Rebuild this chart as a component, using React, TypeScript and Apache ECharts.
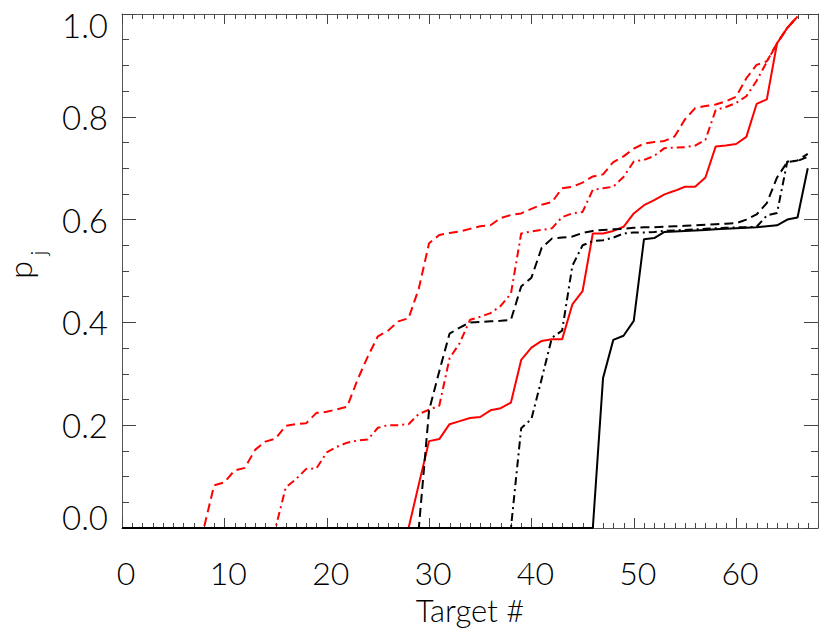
import React, { useEffect, useRef } from "react";
import * as echarts from "echarts";

const targets = [
  0, 1, 2, 3, 4, 5, 6, 7, 8, 9, 10, 11, 12, 13, 14, 15, 16, 17, 18, 19,
  20, 21, 22, 23, 24, 25, 26, 27, 28, 29, 30, 31, 32, 33, 34, 35, 36, 37, 38, 39,
  40, 41, 42, 43, 44, 45, 46, 47, 48, 49, 50, 51, 52, 53, 54, 55, 56, 57, 58, 59,
  60, 61, 62, 63, 64, 65, 66, 67,
];

// x tick positions (major every 10, minor every 1)
const xTicks = [
  0, 1, 2, 3, 4, 5, 6, 7, 8, 9, 10, 11, 12, 13, 14, 15, 16, 17, 18, 19,
  20, 21, 22, 23, 24, 25, 26, 27, 28, 29, 30, 31, 32, 33, 34, 35, 36, 37, 38, 39,
  40, 41, 42, 43, 44, 45, 46, 47, 48, 49, 50, 51, 52, 53, 54, 55, 56, 57, 58, 59,
  60, 61, 62, 63, 64, 65, 66, 67, 68,
];

const xTickLabels = ["0", "10", "20", "30", "40", "50", "60"];

// red, solid (targets 0..66)
const redSolid = [
  0, 0, 0, 0, 0, 0, 0, 0, 0, 0, 0, 0, 0, 0, 0, 0, 0, 0, 0, 0,
  0, 0, 0, 0, 0, 0, 0, 0, 0, 0.085, 0.169, 0.173, 0.202, 0.208, 0.214, 0.216, 0.229, 0.233, 0.244, 0.327,
  0.351, 0.364, 0.367, 0.367, 0.435, 0.461, 0.573, 0.573, 0.578, 0.586, 0.612, 0.628, 0.638, 0.649, 0.656, 0.664, 0.664, 0.682, 0.742, 0.744,
  0.747, 0.761, 0.825, 0.834, 0.943, 0.973, 0.995,
];

// red, dashed (targets 0..66)
const redDashed = [
  0, 0, 0, 0, 0, 0, 0, 0, 0, 0.083, 0.089, 0.112, 0.117, 0.152, 0.168, 0.174, 0.199, 0.202, 0.204, 0.224,
  0.226, 0.231, 0.236, 0.288, 0.333, 0.373, 0.384, 0.402, 0.408, 0.466, 0.554, 0.57, 0.574, 0.577, 0.582, 0.587, 0.589, 0.603, 0.609, 0.612,
  0.621, 0.629, 0.634, 0.661, 0.664, 0.672, 0.684, 0.688, 0.712, 0.723, 0.738, 0.748, 0.751, 0.753, 0.762, 0.795, 0.817, 0.821, 0.824, 0.83,
  0.839, 0.875, 0.901, 0.908, 0.943, 0.973, 0.995,
];

// red, dash-dot (targets 0..66)
const redDashDot = [
  0, 0, 0, 0, 0, 0, 0, 0, 0, 0, 0, 0, 0, 0, 0, 0, 0.079, 0.095, 0.115, 0.116,
  0.147, 0.158, 0.166, 0.17, 0.172, 0.195, 0.2, 0.2, 0.202, 0.222, 0.23, 0.238, 0.33, 0.36, 0.405, 0.411, 0.418, 0.432, 0.456, 0.573,
  0.577, 0.58, 0.583, 0.605, 0.612, 0.615, 0.658, 0.661, 0.664, 0.683, 0.713, 0.716, 0.724, 0.739, 0.74, 0.741, 0.744, 0.755, 0.813, 0.819,
  0.827, 0.84, 0.87, 0.907, 0.943, 0.973, 0.995,
];

// black, solid (targets 0..67)
const blackSolid = [
  0, 0, 0, 0, 0, 0, 0, 0, 0, 0, 0, 0, 0, 0, 0, 0, 0, 0, 0, 0,
  0, 0, 0, 0, 0, 0, 0, 0, 0, 0, 0, 0, 0, 0, 0, 0, 0, 0, 0, 0,
  0, 0, 0, 0, 0, 0, 0, 0.292, 0.366, 0.374, 0.403, 0.562, 0.564, 0.576, 0.577, 0.578, 0.579, 0.58, 0.581, 0.582,
  0.583, 0.584, 0.585, 0.587, 0.589, 0.6, 0.604, 0.7,
];

// black, dashed (targets 0..67)
const blackDashed = [
  0, 0, 0, 0, 0, 0, 0, 0, 0, 0, 0, 0, 0, 0, 0, 0, 0, 0, 0, 0,
  0, 0, 0, 0, 0, 0, 0, 0, 0, 0, 0.229, 0.305, 0.378, 0.39, 0.4, 0.401, 0.402, 0.403, 0.405, 0.47,
  0.487, 0.545, 0.563, 0.565, 0.567, 0.574, 0.578, 0.58, 0.581, 0.582, 0.584, 0.585, 0.585, 0.586, 0.587, 0.588, 0.589, 0.59, 0.591, 0.592,
  0.593, 0.6, 0.61, 0.632, 0.682, 0.712, 0.715, 0.728,
];

// black, dash-dot (targets 0..67)
const blackDashDot = [
  0, 0, 0, 0, 0, 0, 0, 0, 0, 0, 0, 0, 0, 0, 0, 0, 0, 0, 0, 0,
  0, 0, 0, 0, 0, 0, 0, 0, 0, 0, 0, 0, 0, 0, 0, 0, 0, 0, 0, 0.194,
  0.212, 0.29, 0.37, 0.384, 0.51, 0.55, 0.558, 0.56, 0.565, 0.573, 0.575, 0.575, 0.576, 0.578, 0.579, 0.58, 0.581, 0.582, 0.583, 0.584,
  0.585, 0.585, 0.586, 0.608, 0.613, 0.713, 0.714, 0.722,
];

const FONT = "Lato, 'Open Sans', sans-serif";
const FONT_WEIGHT = 300;
const AXIS_COLOR = "#555";
const TICK_COLOR = "#444";
const DASHED = [9, 5];
const DASHDOT = [8, 4, 2, 4];

function pairs(values: number[]) {
  return values.map((v, i) => [targets[i], v]);
}

export default function App() {
  const ref = useRef<HTMLDivElement>(null);

  useEffect(() => {
    if (!ref.current) return;
    const chart = echarts.init(ref.current, undefined, { renderer: "svg" });
    const lineSeries = (
      name: string,
      values: number[],
      color: string,
      type: any
    ) => ({
      name,
      type: "line",
      xAxisIndex: 0,
      yAxisIndex: 0,
      data: pairs(values),
      showSymbol: false,
      symbol: "none",
      lineStyle: { color, width: 2, type },
      z: 3,
    });
    const yAxisBase = {
      type: "value",
      min: 0,
      max: 1,
      interval: 0.2,
      axisLine: { show: true, onZero: false, lineStyle: { color: AXIS_COLOR, width: 1 } },
      axisTick: { show: true, inside: true, length: 14, lineStyle: { color: TICK_COLOR } },
      minorTick: { show: true, splitNumber: 4, length: 7, lineStyle: { color: TICK_COLOR } },
      splitLine: { show: false },
      minorSplitLine: { show: false },
    };
    const option: any = {
      animation: false,
      backgroundColor: "#fff",
      grid: { left: 122, top: 14, right: 12, bottom: 112, containLabel: false },
      xAxis: [
        {
          type: "value",
          position: "bottom",
          min: 0,
          max: 68,
          interval: 10,
          name: "Target #",
          nameLocation: "middle",
          nameGap: 67,
          nameTextStyle: {
            fontFamily: FONT,
            fontSize: 31,
            fontWeight: FONT_WEIGHT,
            color: "#000",
            lineHeight: 30,
          },
          axisLine: { show: true, onZero: false, lineStyle: { color: AXIS_COLOR, width: 1 } },
          axisTick: { show: false },
          axisLabel: {
            show: true,
            margin: 29,
            showMaxLabel: false,
            fontFamily: FONT,
            fontSize: 32,
            fontWeight: FONT_WEIGHT,
            lineHeight: 30,
            color: "#000",
            padding: [0, 0, 0, 8],
            formatter: (v: number) => xTickLabels[Math.round(v / 10)] ?? "",
          },
          splitLine: { show: false },
        },
        {
          type: "value",
          position: "top",
          min: 0,
          max: 68,
          interval: 10,
          axisLine: { show: true, onZero: false, lineStyle: { color: AXIS_COLOR, width: 1 } },
          axisTick: { show: false },
          axisLabel: { show: false },
          splitLine: { show: false },
        },
      ],
      yAxis: [
        {
          ...yAxisBase,
          position: "left",
          axisLabel: {
            show: true,
            margin: 14,
            fontFamily: FONT,
            fontSize: 33,
            fontWeight: FONT_WEIGHT,
            lineHeight: 22,
            color: "#000",
            verticalAlignMinLabel: "bottom",
            verticalAlignMaxLabel: "top",
            formatter: (v: number) => v.toFixed(1),
          },
        },
        {
          ...yAxisBase,
          position: "right",
          axisLabel: { show: false },
        },
      ],
      graphic: [
        {
          type: "group",
          x: 19.5,
          y: 270,
          rotation: Math.PI / 2,
          children: [
            {
              type: "text",
              x: 0,
              y: 0,
              style: {
                text: "p",
                fontFamily: FONT,
                fontSize: 32,
                fontWeight: FONT_WEIGHT,
                fill: "#000",
                align: "center",
                verticalAlign: "middle",
              },
            },
            {
              type: "text",
              x: 17,
              y: 18,
              style: {
                text: "j",
                fontFamily: FONT,
                fontSize: 22,
                fontWeight: FONT_WEIGHT,
                fill: "#000",
                align: "center",
                verticalAlign: "middle",
              },
            },
          ],
        },
      ],
      series: [
        {
          name: "x ticks",
          type: "custom",
          xAxisIndex: 0,
          yAxisIndex: 0,
          clip: false,
          silent: true,
          z: 1,
          data: xTicks.map((v) => [v, 0]),
          encode: { x: 0, y: 1 },
          renderItem: (params: any, api: any) => {
            const v = api.value(0);
            const len = v % 10 === 0 ? 10 : 5;
            const b = api.coord([v, 0]);
            const t = api.coord([v, 1]);
            const x = Math.round(b[0]) + 0.5;
            const yb = Math.round(b[1]);
            const yt = Math.round(t[1]);
            return {
              type: "group",
              children: [
                {
                  type: "line",
                  shape: { x1: x, y1: yb, x2: x, y2: yb - len },
                  style: { stroke: TICK_COLOR, lineWidth: 1 },
                },
                {
                  type: "line",
                  shape: { x1: x, y1: yt, x2: x, y2: yt + len },
                  style: { stroke: TICK_COLOR, lineWidth: 1 },
                },
              ],
            };
          },
        },
        lineSeries("red dash-dot", redDashDot, "#ff0000", DASHDOT),
        lineSeries("red dashed", redDashed, "#ff0000", DASHED),
        lineSeries("red solid", redSolid, "#ff0000", "solid"),
        lineSeries("black dash-dot", blackDashDot, "#000000", DASHDOT),
        lineSeries("black dashed", blackDashed, "#000000", DASHED),
        lineSeries("black solid", blackSolid, "#000000", "solid"),
      ],
    };
    chart.setOption(option);
    return () => chart.dispose();
  }, []);

  return (
    <div
      ref={ref}
      style={{ position: "absolute", left: 0, top: 0, width: 830, height: 640, background: "#fff" }}
    />
  );
}
